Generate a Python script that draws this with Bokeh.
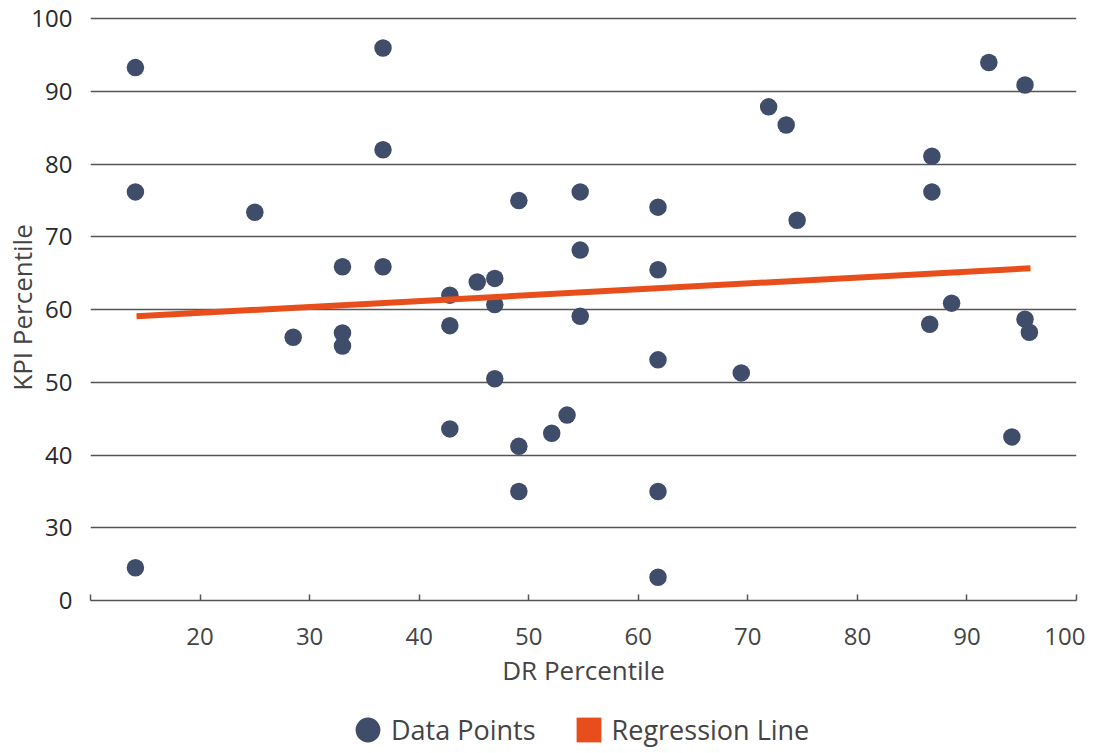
from bokeh.plotting import figure
from bokeh.layouts import column
from bokeh.models import Range1d, FixedTicker, Legend, LegendItem
from bokeh.embed import file_html
from bokeh.resources import INLINE

# ---- data ----
dr_percentile = [14.1, 14.1, 14.1, 25.0, 28.5, 33.0, 33.0, 33.0, 36.7, 36.7, 36.7,
                 42.8, 42.8, 42.8, 45.3, 46.9, 46.9, 46.9, 49.1, 49.1, 49.1, 52.1,
                 53.5, 54.7, 54.7, 54.7, 61.8, 61.8, 61.8, 61.8, 61.8, 69.4, 71.9,
                 73.5, 74.5, 86.6, 86.8, 86.8, 88.6, 92.0, 95.3, 95.3, 95.7, 94.1]
kpi_percentile = [93.3, 76.2, 24.5, 73.4, 56.2, 65.9, 56.8, 55.0, 96.0, 82.0, 65.9,
                  62.0, 57.8, 43.6, 63.8, 64.3, 60.7, 50.5, 75.0, 41.2, 35.0, 43.0,
                  45.5, 76.2, 68.2, 59.1, 74.1, 65.5, 53.1, 35.0, 23.2, 51.3, 87.9,
                  85.4, 72.3, 58.0, 81.1, 76.2, 60.9, 94.0, 90.9, 58.7, 56.9, 42.5]
regression_x = [14.2, 95.8]
regression_y = [59.1, 65.7]

x_ticks = [10, 20, 30, 40, 50, 60, 70, 80, 90, 100]
x_tick_labels = {10: ""}
y_ticks = [20, 30, 40, 50, 60, 70, 80, 90, 100]
y_tick_labels = {20: "0"}
grid_ticks = [30, 40, 50, 60, 70, 80, 90, 100]
legend_labels = ["Data Points", "Regression Line"]

FONT = "Open Sans"
DOT = "#3F4D6B"
ORANGE = "#E84E1B"
AXIS = "#555555"

p = figure(width=1085, height=700, output_backend="svg", toolbar_location=None,
           x_range=Range1d(10, 100), y_range=Range1d(20, 100.6),
           min_border_left=90, min_border_right=9, min_border_top=14,
           min_border_bottom=100)
p.outline_line_color = None
p.background_fill_color = "white"
p.border_fill_color = "white"

pts = p.scatter(dr_percentile, kpi_percentile, size=17.5, fill_color=DOT, line_color=None)
reg = p.line(regression_x, regression_y, line_width=6, line_color=ORANGE)

# x axis
xa = p.xaxis[0]
xa.ticker = FixedTicker(ticks=x_ticks)
xa.major_label_overrides = x_tick_labels
xa.axis_line_color = AXIS
xa.axis_line_width = 1.5
xa.major_tick_in = 6
xa.major_tick_out = 0
xa.major_tick_line_color = AXIS
xa.major_tick_line_width = 1.5
xa.minor_tick_line_color = None
xa.major_label_text_font = FONT
xa.major_label_text_font_size = "24px"
xa.major_label_text_color = "#444444"
xa.major_label_standoff = 27
xa.axis_label = "DR Percentile"
xa.axis_label_text_font = FONT
xa.axis_label_text_font_size = "26px"
xa.axis_label_text_font_style = "normal"
xa.axis_label_text_color = "#444444"
xa.axis_label_standoff = 4

# y axis
ya = p.yaxis[0]
ya.ticker = FixedTicker(ticks=y_ticks)
ya.major_label_overrides = y_tick_labels
ya.axis_line_color = None
ya.major_tick_line_color = None
ya.major_tick_in = 0
ya.major_tick_out = 0
ya.minor_tick_line_color = None
ya.major_label_text_font = FONT
ya.major_label_text_font_size = "24px"
ya.major_label_text_color = "#2a2a2a"
ya.major_label_standoff = 18
ya.axis_label = "KPI Percentile"
ya.axis_label_text_font = FONT
ya.axis_label_text_font_size = "26px"
ya.axis_label_text_font_style = "normal"
ya.axis_label_text_color = "#444444"
ya.axis_label_standoff = -12

# grid
p.xgrid.visible = False
p.ygrid.ticker = FixedTicker(ticks=grid_ticks)
p.ygrid.grid_line_color = AXIS
p.ygrid.grid_line_width = 1.3

# legend strip below the chart
p2 = figure(width=1085, height=48, output_backend="svg", toolbar_location=None,
            x_range=Range1d(0, 1), y_range=Range1d(0, 1),
            x_axis_type=None, y_axis_type=None, min_border=0)
p2.outline_line_color = None
p2.background_fill_color = "white"
p2.border_fill_color = "white"
p2.xgrid.visible = False
p2.ygrid.visible = False
leg_dot = p2.ellipse(x=[-5], y=[-5], width=26, height=26, width_units="screen",
                     height_units="screen", fill_color=DOT, line_color=None)
leg_sq = p2.rect(x=[-5], y=[-5], width=0.1, height=0.1, fill_color=ORANGE, line_color=None)

legend = Legend(items=[LegendItem(label=legend_labels[0], renderers=[leg_dot]),
                       LegendItem(label=legend_labels[1], renderers=[leg_sq])],
                orientation="horizontal", location=(262, 0),
                glyph_width=31, glyph_height=31, label_standoff=8, spacing=37,
                padding=0, margin=0, border_line_color=None,
                background_fill_alpha=0,
                label_text_font=FONT, label_text_font_size="27px",
                label_text_color="#444444")
p2.add_layout(legend, "center")

layout = column(p, p2, spacing=0)
open("out.html", "w").write(file_html(layout, INLINE))
